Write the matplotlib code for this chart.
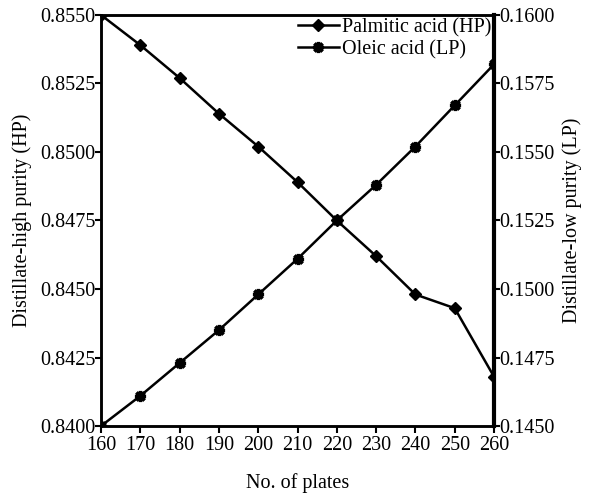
import numpy as np
import matplotlib
matplotlib.use('Agg')
import matplotlib.pyplot as plt

plt.rcParams['font.family'] = ['Liberation Serif', 'DejaVu Serif']

# data
plates = [160, 170, 180, 190, 200, 210, 220, 230, 240, 250, 260]
palmitic_hp = [0.8550, 0.8539, 0.8527, 0.8514, 0.8502, 0.8489, 0.8475,
               0.8462, 0.8448, 0.8443, 0.8418]
oleic_lp = [0.1450, 0.1461, 0.1473, 0.1485, 0.1498, 0.1511, 0.1525,
            0.1538, 0.1552, 0.1567, 0.1582]

left_ticks = [0.8400, 0.8425, 0.8450, 0.8475, 0.8500, 0.8525, 0.8550]
right_ticks = [0.1450, 0.1475, 0.1500, 0.1525, 0.1550, 0.1575, 0.1600]

fig = plt.figure(figsize=(5.9, 4.96), dpi=100)
ax = fig.add_axes([0.1712, 0.1411, 0.6661, 0.8287])
ax2 = ax.twinx()

fs = 14.5

l1, = ax.plot(plates, palmitic_hp, color='black', lw=1.8, marker='D', ms=6,
              label='Palmitic acid (HP)')
l2, = ax2.plot(plates, oleic_lp, color='black', lw=1.8, marker=(8, 2, 0), ms=8,
               mew=2.4, label='Oleic acid (LP)')

ax.set_xlim(160, 260)
ax.set_ylim(0.8400, 0.8550)
ax2.set_ylim(0.1450, 0.1600)
ax.set_xticks(plates)
ax.set_yticks(left_ticks)
ax2.set_yticks(right_ticks)
ax.set_yticklabels(['%.4f' % v for v in left_ticks])
ax2.set_yticklabels(['%.4f' % v for v in right_ticks])

ax.tick_params(axis='x', direction='out', length=5, width=1.5, labelsize=fs, pad=2)
ax.tick_params(axis='y', direction='out', length=4, width=1.5, labelsize=fs, pad=0)
ax2.tick_params(axis='y', direction='out', length=4, width=1.5, labelsize=fs, pad=0)

for a in (ax, ax2):
    for s in a.spines.values():
        s.set_linewidth(1.8)
ax2.spines['right'].set_linewidth(3)

ax.set_xlabel('No. of plates', fontsize=fs, labelpad=13)
ax.set_ylabel('Distillate-high purity (HP)', fontsize=fs, labelpad=6)
ax2.set_ylabel('Distillate-low purity (LP)', fontsize=fs, labelpad=5)

ax2.legend(handles=[l1, l2], loc='upper right', frameon=False, fontsize=fs,
           handlelength=2.0, handletextpad=0.15, borderaxespad=0.05,
           labelspacing=0.15, borderpad=0.1)

fig.savefig('out.png', dpi=100)
